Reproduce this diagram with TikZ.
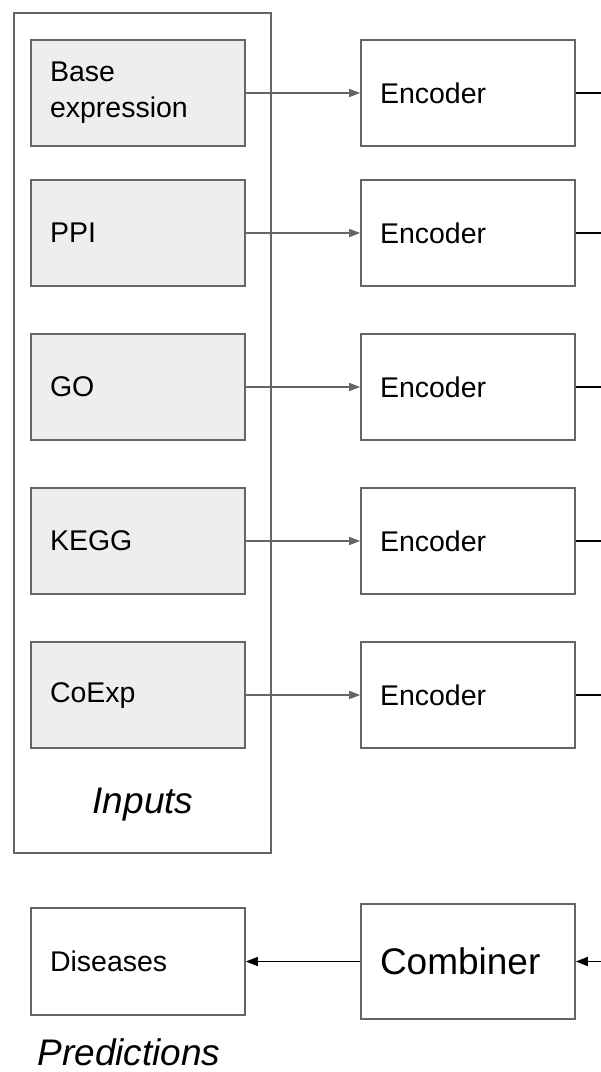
\documentclass[tikz,border=0pt]{standalone}
\usepackage{fontspec}
\setmainfont{Liberation Sans}
\usetikzlibrary{arrows.meta}
\definecolor{boxgray}{HTML}{666666}
\definecolor{infill}{HTML}{EEEEEE}
\tikzset{
  x=1pt, y=-1pt,
  blockbox/.style={draw=boxgray, line width=1.6pt, minimum width=214pt, minimum height=106pt,
    text width=176pt, inner xsep=19pt, align=left, font=\fontsize{28.5}{36}\selectfont},
  inbox/.style={blockbox, fill=infill},
  grayarrow/.style={draw=boxgray, line width=1.5pt, -{Triangle[length=11pt,width=8pt]}},
  blackline/.style={draw=black, line width=1.5pt},
  blackarrow/.style={blackline, -{Triangle[length=12pt,width=9pt]}},
  title/.style={font=\fontsize{37}{40}\selectfont\itshape}
}
\begin{document}
\begin{tikzpicture}
\useasboundingbox (0,0) rectangle (601,1072);
\node[draw=boxgray, line width=1.6pt, minimum width=257pt, minimum height=840pt, inner sep=0pt] (outer) at (142.5,433) {};
\node[inbox] (in1) at (138,93) {Base\\expression};
\node[inbox] (in2) at (138,233) {PPI};
\node[inbox] (in3) at (138,387) {GO};
\node[inbox] (in4) at (138,541) {KEGG};
\node[inbox] (in5) at (138,695) {CoExp};
\node[title] (inlabel) at (143,805) {Inputs};
\foreach \i/\y in {1/93,2/233,3/387,4/541,5/695}{
  \node[blockbox] (enc\i) at (468,\y) {Encoder};
  \coordinate (r\i) at (601,\y);
  \draw[grayarrow] (in\i.east) -- (enc\i.west);
  \draw[blackline] (enc\i.east) -- (r\i);
}
\node[blockbox, minimum height=107pt] (dis) at (138,961.5) {Diseases};
\node[blockbox, minimum height=115pt, font=\fontsize{37}{40}\selectfont] (comb) at (468,961.5) {Combiner};
\coordinate (rc) at (601,961.5);
\draw[blackarrow] (rc) -- (comb.east);
\draw[blackarrow] (comb.west) -- (dis.east);
\node[title] (predlabel) at (129,1052) {Predictions};
\end{tikzpicture}
\end{document}
